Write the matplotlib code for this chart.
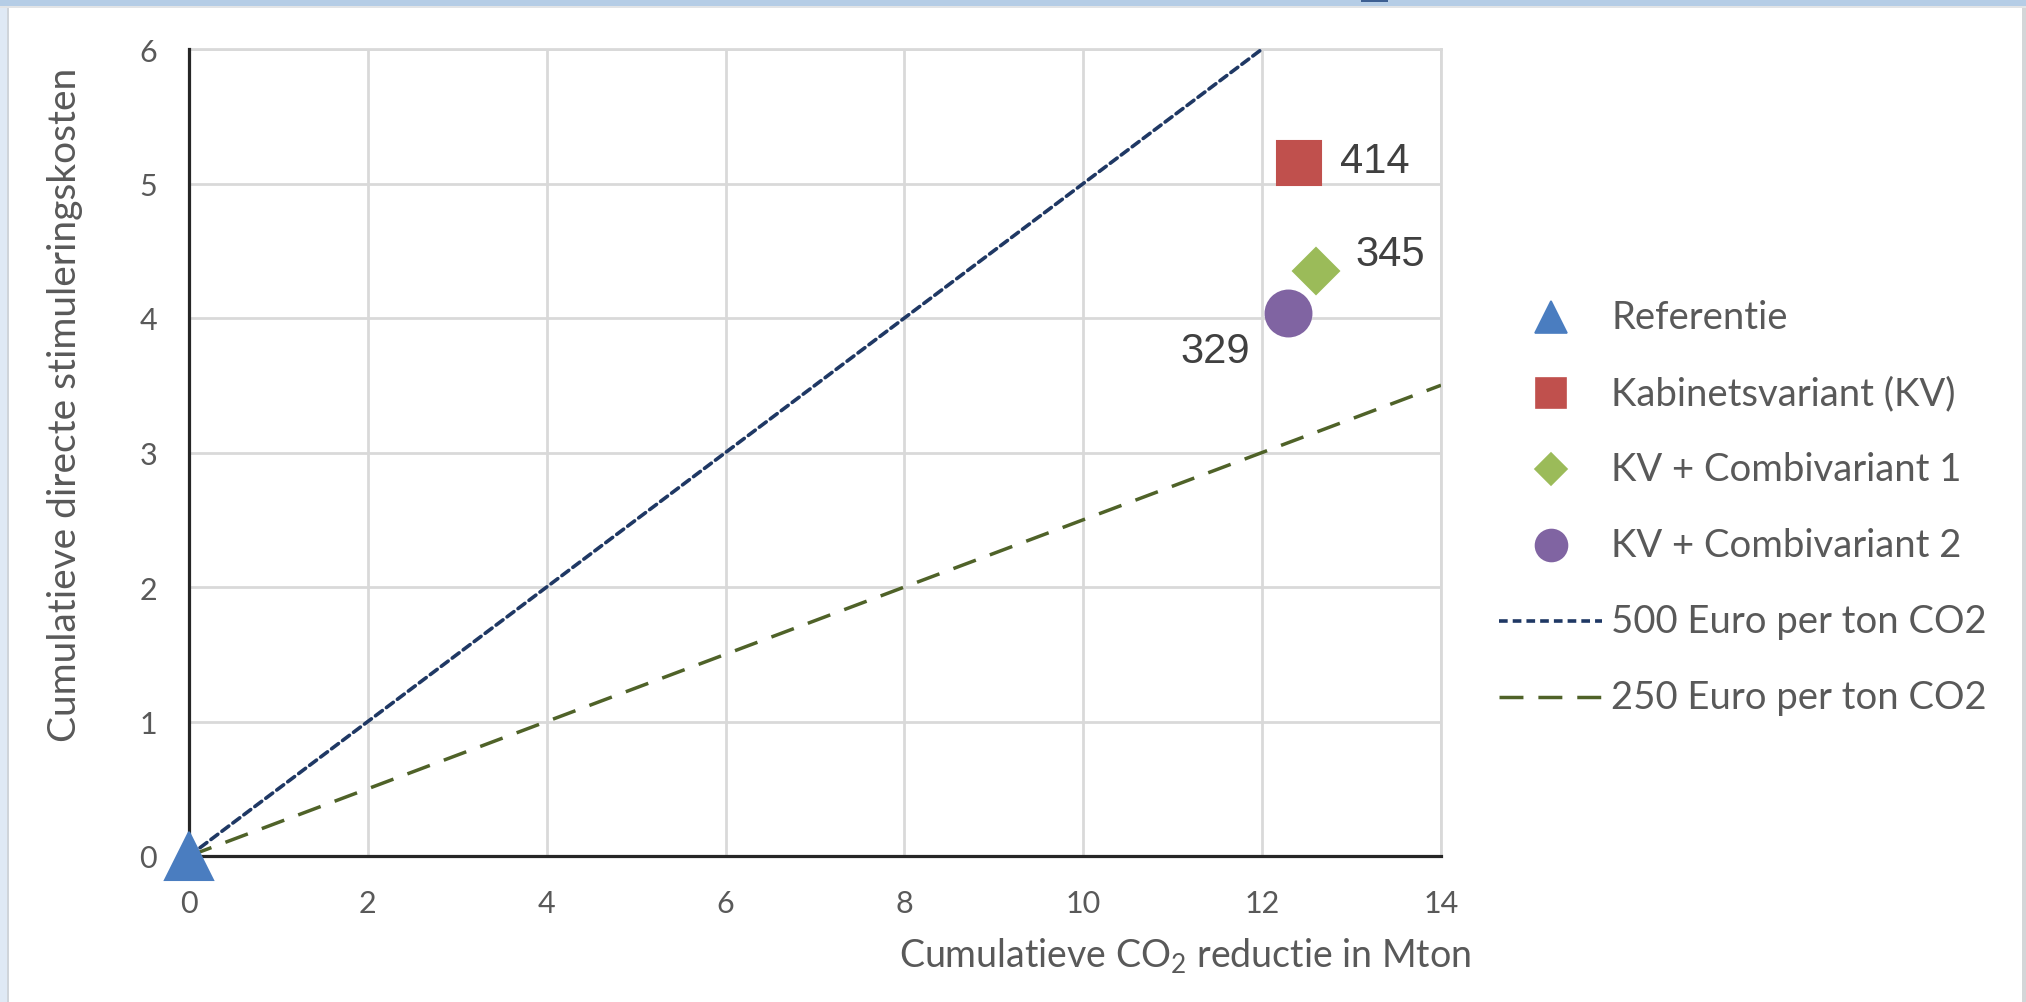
import matplotlib
matplotlib.use("Agg")
import matplotlib.pyplot as plt
from matplotlib.lines import Line2D
from matplotlib.patches import Rectangle

# ---------------- data ----------------
series_names = ["Referentie", "Kabinetsvariant (KV)", "KV + Combivariant 1", "KV + Combivariant 2"]
series_x = [0.0, 12.41, 12.60, 12.29]
series_y = [0.0, 5.15, 4.35, 4.04]
point_labels = ["", "414", "345", "329"]

line_names = ["500 Euro per ton CO2", "250 Euro per ton CO2"]
line500_x = [0, 12]
line500_y = [0, 6]
line250_x = [0, 14]
line250_y = [0, 3.5]

x_ticks = [0, 2, 4, 6, 8, 10, 12, 14]
y_ticks = [0, 1, 2, 3, 4, 5, 6]
x_label = "Cumulatieve CO$_{\\mathregular{2}}$ reductie in Mton"
y_label = "Cumulatieve directe stimuleringskosten"

# ---------------- styles ----------------
W, H = 2026, 1003
plt.rcParams['font.family'] = ['Lato', 'DejaVu Sans']
plt.rcParams['mathtext.fontset'] = 'custom'
plt.rcParams['mathtext.rm'] = 'Lato'

marker_styles = [
    dict(marker='^', color='#4a7dc0', ms=34, ms_leg=23),
    dict(marker='s', color='#c0504d', ms=32, ms_leg=22),
    dict(marker='D', color='#9bbb59', ms=23, ms_leg=16),
    dict(marker='o', color='#8064a2', ms=33, ms_leg=23),
]
label_offsets = [(0, 0, 'left', 'center'), (41, 2, 'left', 'center'),
                 (40, 17, 'left', 'center'), (-38, -38, 'right', 'center')]
line_styles = [
    dict(color='#1f3864', lw=2.6, dashes=(2.4, 1.4)),
    dict(color='#4f6228', lw=2.5, dashes=(6.9, 4.3)),
]
grid_color = '#d9d9d9'
tick_color = '#595959'
text_color = '#595959'

def fx(px):
    return px / W

def fy(py):
    return 1 - py / H

fig = plt.figure(figsize=(W / 100, H / 100), dpi=100)
fig.patch.set_facecolor('white')

# screenshot frame
fig.add_artist(Rectangle((0, 0), fx(8), 1, transform=fig.transFigure,
                         facecolor='#dfe9f5', edgecolor='none', zorder=-10))
fig.add_artist(Rectangle((fx(7), 0), fx(2), 1, transform=fig.transFigure,
                         facecolor='#cfd4da', edgecolor='none', zorder=-9))
fig.add_artist(Rectangle((fx(2022), 0), fx(4), 1, transform=fig.transFigure,
                         facecolor='#d4d6d8', edgecolor='none', zorder=-9))
fig.add_artist(Rectangle((0, fy(7)), 1, 7 / H, transform=fig.transFigure,
                         facecolor='#b5cde6', edgecolor='none', zorder=-8))
fig.add_artist(Rectangle((0, fy(9)), 1, 2 / H, transform=fig.transFigure,
                         facecolor='#e2e4e6', edgecolor='none', zorder=-8))
fig.add_artist(Rectangle((fx(1361), fy(3)), fx(27), 3 / H, transform=fig.transFigure,
                         facecolor='#3d5f92', edgecolor='none', zorder=-7))

# axes
left, right, top, bottom = 189, 1441, 50, 857
ax = fig.add_axes([fx(left), fy(bottom), fx(right - left), (bottom - top) / H])
ax.set_xlim(0, 14)
ax.set_ylim(0, 6)
ax.set_xticks(x_ticks)
ax.set_yticks(y_ticks)
ax.set_xticklabels([str(t) for t in x_ticks])
ax.set_yticklabels([str(t) for t in y_ticks])
ax.tick_params(length=0, labelsize=22, labelcolor=tick_color)
ax.tick_params(axis='x', pad=24)
ax.tick_params(axis='y', pad=23)
ax.grid(True, color=grid_color, lw=2.0, zorder=0)
ax.set_axisbelow(True)
for s in ['top', 'right']:
    ax.spines[s].set_color(grid_color)
    ax.spines[s].set_linewidth(2.0)
for s in ['left', 'bottom']:
    ax.spines[s].set_color('#262626')
    ax.spines[s].set_linewidth(2.3)
    ax.spines[s].set_zorder(3)

# lines
l1, = ax.plot(line500_x, line500_y, color=line_styles[0]['color'], lw=line_styles[0]['lw'],
              dashes=line_styles[0]['dashes'], dash_capstyle='round', zorder=4)
l2, = ax.plot(line250_x, line250_y, color=line_styles[1]['color'], lw=line_styles[1]['lw'],
              dashes=line_styles[1]['dashes'], zorder=4)

# points
for i in range(len(series_names)):
    st = marker_styles[i]
    ax.plot([series_x[i]], [series_y[i]], linestyle='none', marker=st['marker'],
            ms=st['ms'], color=st['color'], mec=st['color'], mew=1.5,
            zorder=6, clip_on=False)
    if point_labels[i]:
        dx, dy, ha, va = label_offsets[i]
        ax.annotate(point_labels[i], (series_x[i], series_y[i]), xytext=(dx, dy),
                    textcoords='offset pixels', ha=ha, va=va, fontsize=30,
                    color='#404040', family=['Liberation Sans', 'DejaVu Sans'], zorder=7)

# axis titles
fig.text(fx(1185), fy(956), x_label, ha='center', va='center', fontsize=27, color=text_color)
fig.text(fx(65), fy(405), y_label, ha='center', va='center', rotation=90, fontsize=28,
         color=text_color)

# legend (manual, Excel-like)
leg_rows = [318, 394, 470, 546, 622, 698]
hx0, hx1 = 1499, 1602
hxc = (hx0 + hx1) / 2
tx = 1611
leg_fs = 27.5
for i in range(len(series_names)):
    st = marker_styles[i]
    fig.add_artist(Line2D([fx(hxc)], [fy(leg_rows[i])], transform=fig.transFigure,
                          linestyle='none', marker=st['marker'], ms=st['ms_leg'],
                          color=st['color'], mec=st['color'], mew=1.2))
    fig.text(fx(tx), fy(leg_rows[i]), series_names[i], ha='left', va='center',
             fontsize=leg_fs, color=text_color)
for j in range(len(line_names)):
    ls = line_styles[j]
    r = leg_rows[len(series_names) + j]
    fig.add_artist(Line2D([fx(hx0), fx(hx1)], [fy(r), fy(r)], transform=fig.transFigure,
                          color=ls['color'], lw=ls['lw'], dashes=ls['dashes']))
    fig.text(fx(tx), fy(r), line_names[j], ha='left', va='center', fontsize=leg_fs,
             color=text_color)

fig.savefig('out.png', dpi=100, facecolor=fig.get_facecolor())
